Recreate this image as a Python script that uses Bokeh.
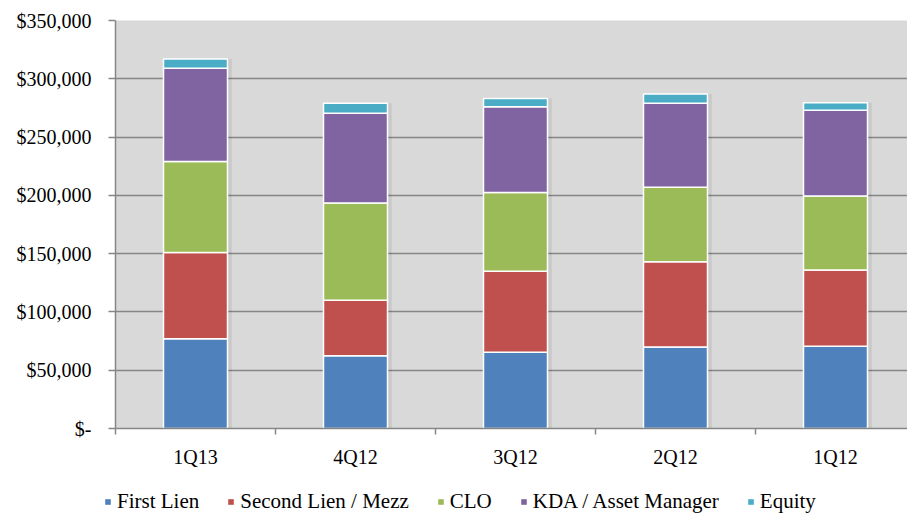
from bokeh.plotting import figure
from bokeh.models import ColumnDataSource, FixedTicker, Range1d, Legend, LegendItem
from bokeh.layouts import column, row
from bokeh.embed import file_html
from bokeh.resources import INLINE

categories = ["1Q13", "4Q12", "3Q12", "2Q12", "1Q12"]
first_lien = [77000, 62500, 65500, 70000, 70500]
second_lien = [74000, 47500, 69500, 73000, 65500]
clo = [78000, 83500, 67500, 64000, 63500]
kda = [80000, 77000, 73500, 72000, 73500]
equity = [8000, 8500, 7000, 8000, 6500]

series_names = ["First Lien", "Second Lien / Mezz", "CLO", "KDA / Asset Manager", "Equity"]
series_keys = ["first_lien", "second_lien", "clo", "kda", "equity"]
colors = ["#4F81BD", "#C0504D", "#9BBB59", "#8064A2", "#4BACC6"]

y_ticks = [0, 50000, 100000, 150000, 200000, 250000, 300000, 350000]
y_tick_labels = ["$-", "$50,000", "$100,000", "$150,000", "$200,000",
                 "$250,000", "$300,000", "$350,000"]

FONT = "Liberation Serif"
GRID = "#868686"

xs = [i + 0.5 for i in range(len(categories))]
totals = [sum(v) for v in zip(first_lien, second_lien, clo, kda, equity)]

src = ColumnDataSource(dict(
    x=xs, first_lien=first_lien, second_lien=second_lien, clo=clo,
    kda=kda, equity=equity, total=totals,
    shadow_x=[x + 0.012 for x in xs],
))

p = figure(width=907, height=470,
           x_range=Range1d(0, 4.95), y_range=Range1d(0, 350000),
           output_backend="svg", toolbar_location=None,
           min_border_left=115, min_border_right=0,
           min_border_top=20, min_border_bottom=40,
           background_fill_color="#D9D9D9", border_fill_color="white",
           outline_line_color=None)

# subtle shadow behind bars
p.vbar(x="shadow_x", top="total", bottom=0, width=0.43, source=src,
       fill_color="#000000", fill_alpha=0.07, line_color=None)

rs = p.vbar_stack(series_keys, x="x", width=0.4, color=colors,
                  line_color="white", line_width=1.5, source=src)

# y axis
p.yaxis.ticker = FixedTicker(ticks=y_ticks)
p.yaxis.major_label_overrides = dict(zip(y_ticks, y_tick_labels))
p.yaxis.axis_line_color = GRID
p.yaxis.axis_line_width = 1.5
p.yaxis.major_tick_line_color = GRID
p.yaxis.major_tick_line_width = 1.5
p.yaxis.major_tick_out = 7
p.yaxis.major_tick_in = 0
p.yaxis.minor_tick_line_color = None
p.yaxis.major_label_standoff = 17
p.yaxis.major_label_text_font = FONT
p.yaxis.major_label_text_font_size = "20px"
p.yaxis.major_label_text_color = "black"

p.ygrid.grid_line_color = GRID
p.ygrid.grid_line_width = 1.5
p.xgrid.grid_line_color = None

# x axis
p.xaxis.ticker = FixedTicker(ticks=xs, minor_ticks=list(range(len(categories))))
p.xaxis.major_label_overrides = dict(zip(xs, categories))
p.xaxis.axis_line_color = GRID
p.xaxis.axis_line_width = 1.5
p.xaxis.major_tick_line_color = None
p.xaxis.major_tick_out = 6
p.xaxis.major_tick_in = 0
p.xaxis.minor_tick_line_color = GRID
p.xaxis.minor_tick_line_width = 1.5
p.xaxis.minor_tick_out = 6
p.xaxis.minor_tick_in = 0
p.xaxis.major_label_standoff = 11
p.xaxis.major_label_text_font = FONT
p.xaxis.major_label_text_font_size = "20px"
p.xaxis.major_label_text_color = "black"

# legend in its own strip below the chart
pl = figure(width=907, height=44, x_range=Range1d(0, 1), y_range=Range1d(0, 1),
            output_backend="svg", toolbar_location=None,
            x_axis_type=None, y_axis_type=None,
            min_border=0, min_border_left=0, min_border_right=0,
            min_border_top=0, min_border_bottom=0,
            outline_line_color=None,
            background_fill_color="white", border_fill_color="white")
pl.xgrid.visible = False
pl.ygrid.visible = False
dummy = [pl.vbar(x=[5], top=[5], bottom=[4], width=0.1, fill_color=c, line_color=None)
         for c in colors]
items = [LegendItem(label=n, renderers=[r]) for n, r in zip(series_names, dummy)]
legend = Legend(items=items, orientation="horizontal", location=(104, 0),
                label_text_font=FONT, label_text_font_size="21px",
                label_text_color="black",
                glyph_width=7, glyph_height=7, label_standoff=6, spacing=28,
                padding=0, margin=0, border_line_color=None,
                background_fill_alpha=0)
pl.add_layout(legend)

layout = column(p, row(pl, spacing=0), spacing=0)
open("out.html", "w").write(file_html(layout, INLINE))
